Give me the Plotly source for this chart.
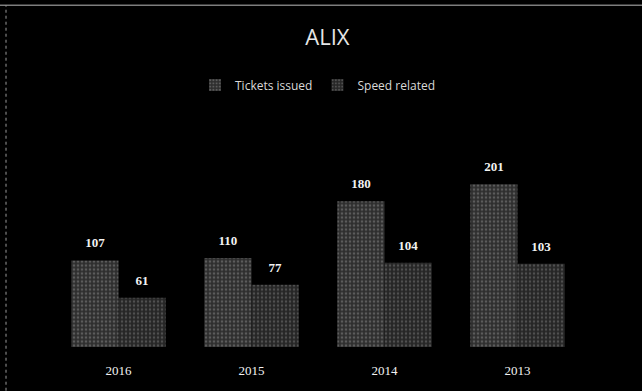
import plotly.graph_objects as go

years = ["2016", "2015", "2014", "2013"]
tickets_issued = [107, 110, 180, 201]
speed_related = [61, 77, 104, 103]

label_font = dict(family="Liberation Serif", size=13, color="#f2f2f2")

fig = go.Figure()
series = [
    ("Tickets issued", tickets_issued, "#2e2e2e", "#8a8a8a", 0.35),
    ("Speed related", speed_related, "#262626", "#7a7a7a", 0.3),
]
for i, (name, vals, bg, fg, sol) in enumerate(series):
    fig.add_trace(go.Bar(
        name=name, x=years, y=vals, offsetgroup=str(i),
        marker=dict(color=bg, line=dict(width=0),
                    pattern=dict(shape=".", fgcolor=fg, size=4, solidity=sol)),
    ))
for i, (name, vals, bg, fg, sol) in enumerate(series):
    fig.add_trace(go.Scatter(
        x=years, y=vals, offsetgroup=str(i), mode="markers+text",
        marker=dict(size=14, color="rgba(0,0,0,0)"),
        text=[f"<b>{v}</b>" for v in vals], textposition="top center",
        textfont=label_font, showlegend=False, cliponaxis=False, hoverinfo="skip",
    ))

fig.update_layout(
    width=642, height=391,
    paper_bgcolor="black", plot_bgcolor="black",
    margin=dict(l=52, r=58, t=110, b=44),
    barmode="group", bargap=0.29, bargroupgap=0,
    scattermode="group", scattergap=0.29,
    title=dict(text="ALIX", x=0.51, xanchor="center", y=1 - 37 / 391, yanchor="middle",
               font=dict(family="Open Sans", size=22, color="#e6e6e6")),
    legend=dict(orientation="h", x=0.5, xanchor="center", yref="container",
                y=1 - 85 / 391, yanchor="middle",
                font=dict(family="Open Sans", size=12, color="#d9d9d9"),
                bgcolor="rgba(0,0,0,0)", itemwidth=30),
    xaxis=dict(showgrid=False, zeroline=False, showline=False, ticks="",
               ticklabelstandoff=14,
               tickfont=dict(family="Liberation Serif", size=13, color="#f2f2f2")),
    yaxis=dict(visible=False, range=[0, 291]),
    showlegend=True,
)

# scan border lines (top and left)
fig.add_shape(type="line", xref="paper", yref="paper", x0=-52/532, x1=1 + 58/532,
              y0=1 + 107/237, y1=1 + 107/237, line=dict(color="#bbbbbb", width=1))
fig.add_shape(type="line", xref="paper", yref="paper", x0=-46/532, x1=-46/532,
              y0=-44/237, y1=1 + 107/237, line=dict(color="#999999", width=1, dash="dot"))

fig.write_html("out.html")
